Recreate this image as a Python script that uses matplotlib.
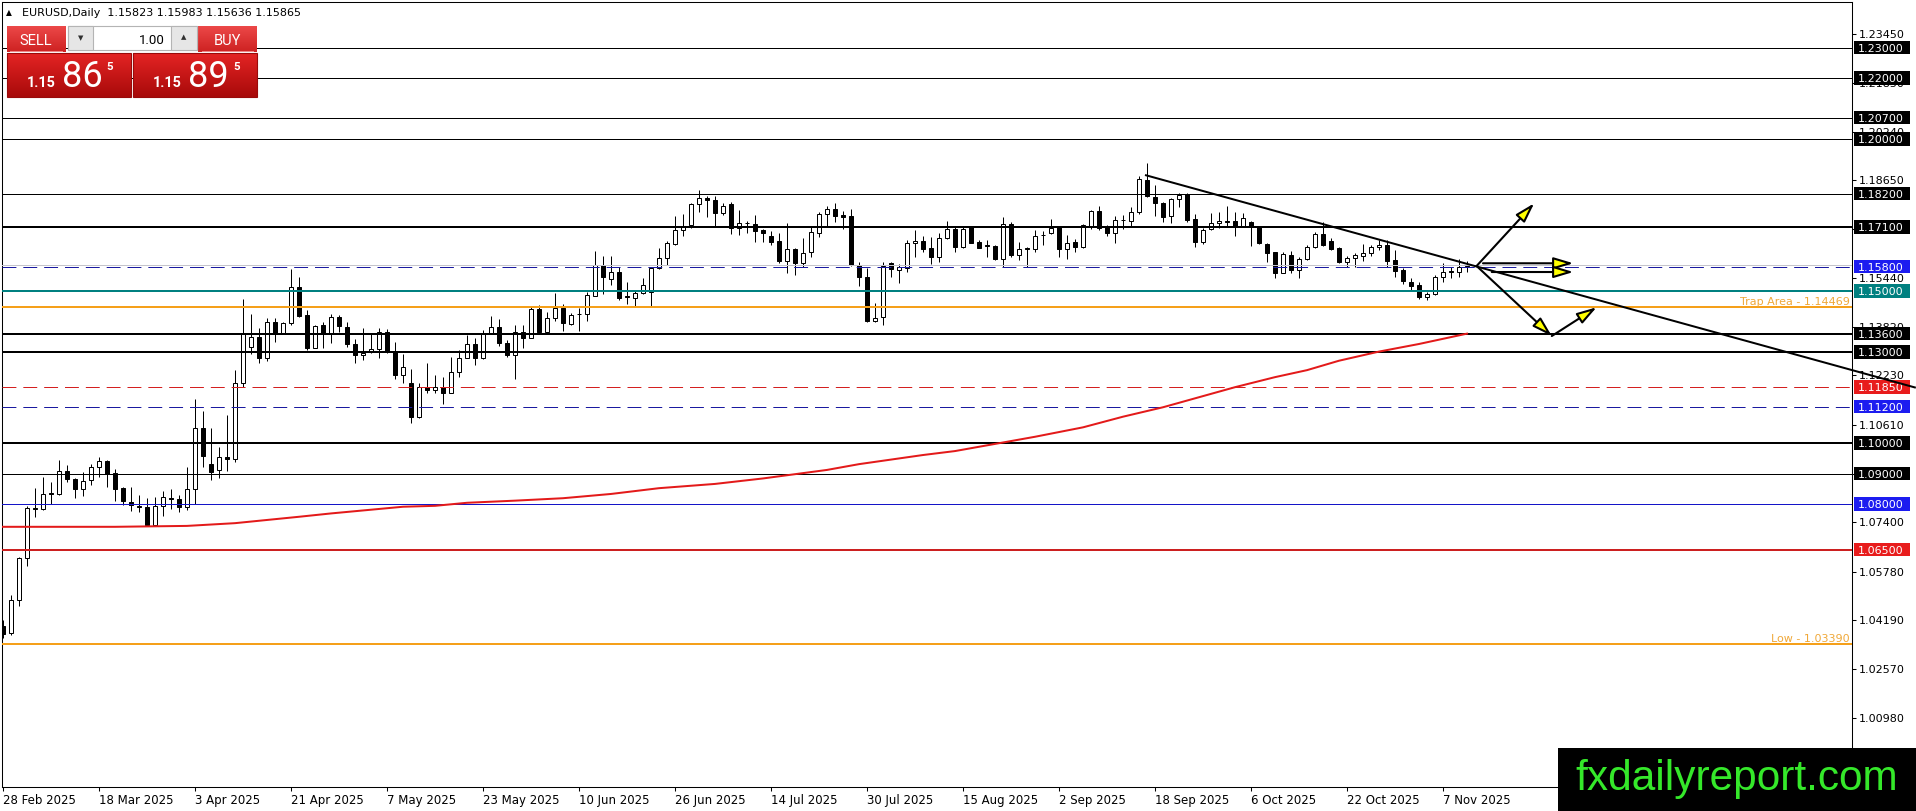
import numpy as np
import pandas as pd
import matplotlib
matplotlib.use("Agg")
import matplotlib.pyplot as plt
import matplotlib.transforms as mtransforms
from matplotlib.patches import Rectangle, FancyArrowPatch

plt.rcParams["font.family"] = ["DejaVu Sans"]
plt.rcParams["lines.scale_dashes"] = False


# Data (EURUSD daily, one row per 12 bars)

header = "EURUSD,Daily  1.15823 1.15983 1.15636 1.15865"
first_day = "2025-02-28"

opens = [
    1.0398, 1.0375, 1.0484, 1.0621, 1.0786, 1.0782, 1.0837, 1.0832, 1.0908, 1.0883, 1.0848, 1.0879,
    1.0921, 1.0940, 1.0901, 1.0852, 1.0808, 1.0795, 1.0789, 1.0731, 1.0793, 1.0819, 1.0815, 1.0789,
    1.0848, 1.1049, 1.0932, 1.0912, 1.0956, 1.0947, 1.1199, 1.1317, 1.1348, 1.1279, 1.1398, 1.1363,
    1.1394, 1.1512, 1.1420, 1.1314, 1.1387, 1.1363, 1.1416, 1.1383, 1.1325, 1.1290, 1.1301, 1.1311,
    1.1367, 1.1301, 1.1224, 1.1197, 1.1085, 1.1184, 1.1175, 1.1186, 1.1166, 1.1235, 1.1281, 1.1326,
    1.1279, 1.1361, 1.1383, 1.1328, 1.1290, 1.1367, 1.1345, 1.1440, 1.1367, 1.1413, 1.1443, 1.1391,
    1.1425, 1.1424, 1.1484, 1.1585, 1.1539, 1.1562, 1.1483, 1.1478, 1.1493, 1.1496, 1.1575, 1.1608,
    1.1655, 1.1701, 1.1717, 1.1786, 1.1805, 1.1799, 1.1755, 1.1786, 1.1708, 1.1725, 1.1721, 1.1701,
    1.1681, 1.1666, 1.1600, 1.1638, 1.1593, 1.1630, 1.1692, 1.1753, 1.1769, 1.1749, 1.1747, 1.1586,
    1.1545, 1.1403, 1.1414, 1.1591, 1.1569, 1.1575, 1.1657, 1.1665, 1.1640, 1.1613, 1.1673, 1.1703,
    1.1646, 1.1712, 1.1661, 1.1650, 1.1649, 1.1604, 1.1720, 1.1618, 1.1642, 1.1638, 1.1684, 1.1692,
    1.1709, 1.1637, 1.1660, 1.1646, 1.1714, 1.1764, 1.1709, 1.1692, 1.1735, 1.1730, 1.1761, 1.1865,
    1.1810, 1.1791, 1.1747, 1.1802, 1.1818, 1.1736, 1.1662, 1.1703, 1.1725, 1.1731, 1.1730, 1.1714,
    1.1728, 1.1712, 1.1654, 1.1629, 1.1560, 1.1619, 1.1569, 1.1604, 1.1646, 1.1688, 1.1665, 1.1643,
    1.1597, 1.1608, 1.1615, 1.1626, 1.1644, 1.1651, 1.1602, 1.1569, 1.1531, 1.1520, 1.1479, 1.1490,
    1.1547, 1.1565, 1.1561, 1.15823,
]
highs = [
    1.0419, 1.0501, 1.0627, 1.0793, 1.0852, 1.0888, 1.0871, 1.0945, 1.0928, 1.0885, 1.0906, 1.0931,
    1.0953, 1.0945, 1.0915, 1.0857, 1.0855, 1.0830, 1.0819, 1.0822, 1.0844, 1.0848, 1.0830, 1.0921,
    1.1145, 1.1105, 1.1049, 1.0988, 1.1093, 1.1241, 1.1473, 1.1425, 1.1377, 1.1410, 1.1410, 1.1398,
    1.1571, 1.1545, 1.1438, 1.1388, 1.1399, 1.1425, 1.1421, 1.1399, 1.1341, 1.1377, 1.1363, 1.1377,
    1.1374, 1.1334, 1.1293, 1.1243, 1.1197, 1.1265, 1.1224, 1.1216, 1.1284, 1.1306, 1.1356, 1.1345,
    1.1372, 1.1418, 1.1407, 1.1339, 1.1389, 1.1389, 1.1449, 1.1454, 1.1432, 1.1493, 1.1457, 1.1427,
    1.1443, 1.1498, 1.1633, 1.1615, 1.1615, 1.1580, 1.1530, 1.1504, 1.1544, 1.1580, 1.1640, 1.1665,
    1.1747, 1.1752, 1.1791, 1.1832, 1.1813, 1.1813, 1.1791, 1.1794, 1.1767, 1.1731, 1.1750, 1.1703,
    1.1697, 1.1692, 1.1723, 1.1640, 1.1673, 1.1714, 1.1761, 1.1780, 1.1791, 1.1764, 1.1769, 1.1596,
    1.1575, 1.1460, 1.1597, 1.1597, 1.1589, 1.1668, 1.1701, 1.1681, 1.1677, 1.1690, 1.1731, 1.1714,
    1.1714, 1.1714, 1.1668, 1.1668, 1.1651, 1.1745, 1.1728, 1.1662, 1.1646, 1.1701, 1.1699, 1.1736,
    1.1714, 1.1684, 1.1670, 1.1721, 1.1767, 1.1780, 1.1717, 1.1747, 1.1750, 1.1777, 1.1878, 1.1922,
    1.1849, 1.1794, 1.1805, 1.1821, 1.1821, 1.1752, 1.1706, 1.1758, 1.1761, 1.1780, 1.1761, 1.1758,
    1.1731, 1.1714, 1.1657, 1.1629, 1.1629, 1.1632, 1.1611, 1.1651, 1.1695, 1.1728, 1.1673, 1.1646,
    1.1615, 1.1624, 1.1655, 1.1651, 1.1668, 1.1668, 1.1635, 1.1575, 1.1542, 1.1531, 1.1498, 1.1553,
    1.1591, 1.1580, 1.1604, 1.15983,
]
lows = [
    1.0358, 1.0370, 1.0465, 1.0596, 1.0758, 1.0780, 1.0800, 1.0830, 1.0873, 1.0819, 1.0826, 1.0863,
    1.0890, 1.0857, 1.0811, 1.0797, 1.0778, 1.0773, 1.0728, 1.0728, 1.0762, 1.0783, 1.0775, 1.0780,
    1.0800, 1.0923, 1.0879, 1.0887, 1.0910, 1.0939, 1.1184, 1.1293, 1.1262, 1.1270, 1.1334, 1.1361,
    1.1390, 1.1416, 1.1306, 1.1312, 1.1312, 1.1328, 1.1367, 1.1317, 1.1265, 1.1273, 1.1295, 1.1279,
    1.1295, 1.1210, 1.1199, 1.1065, 1.1082, 1.1164, 1.1166, 1.1129, 1.1166, 1.1216, 1.1279, 1.1257,
    1.1276, 1.1361, 1.1319, 1.1282, 1.1210, 1.1312, 1.1345, 1.1363, 1.1363, 1.1403, 1.1369, 1.1389,
    1.1369, 1.1402, 1.1484, 1.1490, 1.1520, 1.1471, 1.1457, 1.1452, 1.1489, 1.1451, 1.1573, 1.1585,
    1.1653, 1.1681, 1.1706, 1.1761, 1.1745, 1.1714, 1.1750, 1.1688, 1.1684, 1.1690, 1.1662, 1.1662,
    1.1651, 1.1591, 1.1560, 1.1553, 1.1580, 1.1613, 1.1677, 1.1714, 1.1728, 1.1703, 1.1582, 1.1517,
    1.1399, 1.1399, 1.1388, 1.1547, 1.1528, 1.1564, 1.1611, 1.1630, 1.1589, 1.1597, 1.1670, 1.1629,
    1.1641, 1.1657, 1.1641, 1.1613, 1.1602, 1.1580, 1.1613, 1.1602, 1.1578, 1.1630, 1.1651, 1.1688,
    1.1613, 1.1607, 1.1629, 1.1643, 1.1703, 1.1701, 1.1681, 1.1657, 1.1703, 1.1712, 1.1753, 1.1808,
    1.1747, 1.1728, 1.1725, 1.1777, 1.1728, 1.1646, 1.1655, 1.1701, 1.1706, 1.1712, 1.1681, 1.1712,
    1.1648, 1.1655, 1.1597, 1.1542, 1.1558, 1.1558, 1.1542, 1.1602, 1.1641, 1.1648, 1.1635, 1.1593,
    1.1578, 1.1580, 1.1600, 1.1615, 1.1635, 1.1578, 1.1545, 1.1523, 1.1503, 1.1473, 1.1471, 1.1487,
    1.1531, 1.1542, 1.1547, 1.15636,
]
closes = [
    1.0372, 1.0484, 1.0621, 1.0786, 1.0783, 1.0832, 1.0832, 1.0908, 1.0883, 1.0848, 1.0876, 1.0921,
    1.0940, 1.0899, 1.0850, 1.0811, 1.0797, 1.0789, 1.0731, 1.0793, 1.0824, 1.0815, 1.0789, 1.0848,
    1.1049, 1.0959, 1.0906, 1.0956, 1.0947, 1.1197, 1.1359, 1.1348, 1.1279, 1.1398, 1.1361, 1.1394,
    1.1512, 1.1418, 1.1312, 1.1385, 1.1361, 1.1416, 1.1385, 1.1325, 1.1290, 1.1298, 1.1311, 1.1367,
    1.1301, 1.1224, 1.1249, 1.1085, 1.1184, 1.1175, 1.1186, 1.1164, 1.1235, 1.1281, 1.1326, 1.1279,
    1.1361, 1.1383, 1.1328, 1.1290, 1.1367, 1.1345, 1.1440, 1.1367, 1.1413, 1.1443, 1.1394, 1.1421,
    1.1423, 1.1486, 1.1585, 1.1547, 1.1562, 1.1478, 1.1481, 1.1493, 1.1519, 1.1575, 1.1608, 1.1657,
    1.1701, 1.1714, 1.1786, 1.1805, 1.1799, 1.1755, 1.1780, 1.1706, 1.1723, 1.1723, 1.1699, 1.1690,
    1.1662, 1.1600, 1.1638, 1.1593, 1.1624, 1.1695, 1.1753, 1.1769, 1.1747, 1.1742, 1.1586, 1.1545,
    1.1403, 1.1413, 1.1582, 1.1571, 1.1578, 1.1657, 1.1665, 1.1638, 1.1613, 1.1673, 1.1703, 1.1646,
    1.1703, 1.1659, 1.1643, 1.1649, 1.1604, 1.1719, 1.1618, 1.1639, 1.1639, 1.1681, 1.1685, 1.1708,
    1.1637, 1.1659, 1.1646, 1.1717, 1.1764, 1.1706, 1.1692, 1.1734, 1.1733, 1.1761, 1.1867, 1.1812,
    1.1788, 1.1745, 1.1802, 1.1816, 1.1734, 1.1662, 1.1701, 1.1725, 1.1731, 1.1728, 1.1714, 1.1739,
    1.1714, 1.1657, 1.1626, 1.1560, 1.1621, 1.1569, 1.1604, 1.1646, 1.1688, 1.1651, 1.1638, 1.1597,
    1.1608, 1.1619, 1.1624, 1.1644, 1.1651, 1.1600, 1.1567, 1.1534, 1.1517, 1.1479, 1.1490, 1.1547,
    1.1562, 1.1563, 1.1580, 1.15865,
]

# moving average (red curve), sampled along the chart
ma_bars = [0, 14, 23, 29, 37, 41, 50, 54, 58, 64, 70, 76, 82, 89, 95, 103, 107, 115, 119,
           129, 135, 140, 145, 154, 159, 163, 167, 172, 177, 183]
ma_vals = [1.0725, 1.0725, 1.0728, 1.0737, 1.0758, 1.0769, 1.0791, 1.0794, 1.0804, 1.0811,
           1.0819, 1.0833, 1.0852, 1.0866, 1.0884, 1.0912, 1.0931, 1.0961, 1.0974,
           1.1021, 1.1052, 1.1087, 1.1118, 1.1184, 1.1217, 1.1240, 1.1271, 1.1301, 1.1326, 1.1360]

# horizontal levels
level_prices = [1.23, 1.22, 1.207, 1.20, 1.182, 1.171, 1.158, 1.15, 1.14469,
                1.136, 1.13, 1.1185, 1.112, 1.10, 1.09, 1.08, 1.065, 1.0339]
level_colors = ["black", "black", "black", "black", "black", "black", "#1a1aa0", "#008080", "#f5a01a",
                "black", "black", "#d42020", "#1a1aa0", "black", "black", "#1414c8", "#cc2020", "#f5a01a"]
level_px = [1, 1, 1, 1, 1, 2, 1, 2, 2, 2, 2, 1, 1, 2, 1, 1, 2, 2]
level_dashed = [False, False, False, False, False, False, True, False, False,
                False, False, True, True, False, False, False, False, False]

# coloured price tags on the right scale
tag_prices = [1.23, 1.22, 1.207, 1.20, 1.182, 1.171, 1.158, 1.15,
              1.136, 1.13, 1.1185, 1.112, 1.10, 1.09, 1.08, 1.065]
tag_colors = ["black", "black", "black", "black", "black", "black", "#1c1cf0", "#008080",
              "black", "black", "#e81c1c", "#1c1cf0", "black", "black", "#1c1cf0", "#e81c1c"]

scale_ticks = [1.23450, 1.21850, 1.20240, 1.18650, 1.17030, 1.15440, 1.13820, 1.12230,
               1.10610, 1.09000, 1.07400, 1.05780, 1.04190, 1.02570, 1.00980]

bid_price = 1.15865
trap_price = 1.14469
low_price = 1.03390

# trend line (bar, price) and the scenario arrows
trend_line = [(142.75, 1.18815), (239.1, 1.11823)]
arrow_segments = [
    ((184.2, 1.15824), (191.4, 1.17885)),
    ((185.0, 1.15913), (196.3, 1.15913)),
    ((186.1, 1.15626), (196.3, 1.15626)),
    ((184.2, 1.15824), (193.6, 1.13522)),
    ((193.6, 1.13522), (199.2, 1.14466)),
]

sell_quote = ("1.15", "86", "5")
buy_quote = ("1.15", "89", "5")
lot_size = "1.00"
watermark = "fxdailyreport.com"


# Layout (pixels)

W, H = 1916, 811
PLOT_L, PLOT_R, PLOT_T, PLOT_B = 2, 1852, 2, 787
BAR_PX = 8
PT = 0.72  # points per pixel at 100 dpi


def fx(px):
    """pixel x -> axes fraction of the main chart"""
    return (px - PLOT_L) / (PLOT_R - PLOT_L)


fig = plt.figure(figsize=(W / 100, H / 100), dpi=100, facecolor="white")
ax = fig.add_axes([PLOT_L / W, (H - PLOT_B) / H, (PLOT_R - PLOT_L) / W, (PLOT_B - PLOT_T) / H])
ax.set_xlim(-1 / BAR_PX, (PLOT_R - PLOT_L - 1) / BAR_PX)
ax.set_ylim(0.98697, 1.24502)

o, h, l, c = (np.array(v) for v in (opens, highs, lows, closes))
x = np.arange(len(o))
up = c >= o
body_lo = np.minimum(o, c)
body_h = np.maximum(np.abs(c - o), 0.00015)

# candles
ax.vlines(x, l, h, color="black", lw=1 * PT, zorder=2)
ax.bar(x[up], body_h[up], width=0.55, bottom=body_lo[up], color="white",
       edgecolor="black", lw=1 * PT, zorder=2.2)
ax.bar(x[~up], body_h[~up], width=0.55, bottom=body_lo[~up], color="black",
       edgecolor="black", lw=1 * PT, zorder=2.2)

# levels
ax.axhline(bid_price, color="#c4c4cc", lw=1 * PT, zorder=2.8)
for p, col, wpx, dashed in zip(level_prices, level_colors, level_px, level_dashed):
    line = ax.axhline(p, color=col, lw=wpx * PT, zorder=3)
    if dashed:
        line.set_dashes((10, 5))

# moving average
ax.plot(ma_bars, ma_vals, color="#e31a1a", lw=2 * PT, zorder=3.5)

# trend line, runs off across the price scale
(tx0, ty0), (tx1, ty1) = trend_line
ax.plot([tx0, tx1], [ty0, ty1], color="black", lw=2 * PT, zorder=8, clip_on=False,
        solid_capstyle="butt")

for (x0, y0), (x1, y1) in arrow_segments:
    ax.add_patch(FancyArrowPatch((x0, y0), (x1, y1),
                                 arrowstyle="-|>,head_length=12,head_width=3.6",
                                 mutation_scale=1, lw=1.5, fc="#ffff00", ec="black",
                                 shrinkA=0, shrinkB=0, zorder=5))

trans = mtransforms.blended_transform_factory(ax.transAxes, ax.transData)
ax.text(fx(1850), trap_price, f"Trap Area - {trap_price:.5f}", transform=trans,
        ha="right", va="bottom", fontsize=8, color="#f0a838", zorder=4)
ax.text(fx(1850), low_price, f"Low - {low_price:.5f}", transform=trans,
        ha="right", va="bottom", fontsize=8, color="#f0a838", zorder=4)

# price scale
ax.yaxis.tick_right()
ax.set_yticks(scale_ticks)
ax.set_yticklabels([f"{v:.5f}" for v in scale_ticks])
ax.tick_params(axis="y", length=3, width=0.75, pad=2, labelsize=8, direction="out")

tag_h = 13.5 / 3042
for p, col in zip(tag_prices, tag_colors):
    ax.add_patch(Rectangle((fx(1854), p - tag_h / 2), fx(1910) - fx(1854), tag_h,
                           transform=trans, facecolor=col, edgecolor="none",
                           clip_on=False, zorder=6))
    ax.text(fx(1858), p, f"{p:.5f}", transform=trans, color="white", fontsize=8,
            ha="left", va="center_baseline", clip_on=False, zorder=7)

# date scale
dates = pd.bdate_range(first_day, periods=len(o))
tick_idx = np.arange(0, len(dates), 12)
ax.set_xticks(tick_idx)
ax.set_xticklabels([f"{d.day} {d:%b %Y}" for d in dates[tick_idx]])
for lbl in ax.get_xticklabels():
    lbl.set_ha("left")
ax.tick_params(axis="x", length=3, width=0.75, pad=2, labelsize=8.5, direction="out")

for sp in ax.spines.values():
    sp.set_linewidth(0.75)


# Overlay: header, trade panel, watermark (pixel coordinates)

ov = fig.add_axes([0, 0, 1, 1], zorder=10)
ov.patch.set_alpha(0)
ov.axis("off")


def gradient(x0, y0, x1, y1, top, bottom, edge=None):
    g = np.linspace(np.array(top) / 255, np.array(bottom) / 255, 40)[:, None, :]
    ov.imshow(g, extent=(x0, x1, y1, y0), aspect="auto", interpolation="bilinear", zorder=1)
    if edge:
        ov.add_patch(Rectangle((x0, y0), x1 - x0, y1 - y0, fill=False, ec=edge, lw=0.8, zorder=2))


ov.text(6, 13, "\u25b2", fontsize=5.5, va="center", ha="left")
ov.text(22, 13, header, fontsize=8, va="center", ha="left")

# SELL / BUY buttons
gradient(6.7, 26, 65, 52, (236, 72, 72), (206, 34, 34))
gradient(198.3, 26, 256.7, 52, (236, 72, 72), (206, 34, 34))
ov.plot([10, 62], [50.5, 50.5], color="#f08a8a", lw=0.7, zorder=3)
ov.plot([202, 253], [50.5, 50.5], color="#f08a8a", lw=0.7, zorder=3)
ov.text(35.8, 45, "SELL", family="Roboto", fontsize=10.5, color="white", ha="center", va="baseline", zorder=4)
ov.text(227.5, 45, "BUY", family="Roboto", fontsize=10.5, color="white", ha="center", va="baseline", zorder=4)

# lot size spinner
ov.add_patch(Rectangle((68.3, 26), 128.4, 24, fc="white", ec="#b4b4b4", lw=0.8, zorder=2))
ov.add_patch(Rectangle((68.3, 26), 24.4, 24, fc="#e6e6e6", ec="#b4b4b4", lw=0.8, zorder=3))
ov.add_patch(Rectangle((170.7, 26), 26, 24, fc="#e6e6e6", ec="#b4b4b4", lw=0.8, zorder=3))
ov.text(80.5, 38.5, "\u25bc", fontsize=5, ha="center", va="center", color="#303030", zorder=4)
ov.text(183.7, 37.5, "\u25b2", fontsize=5, ha="center", va="center", color="#303030", zorder=4)
ov.text(165, 43.5, lot_size, family="Roboto", fontsize=9.5, ha="right", va="baseline", zorder=4)

# big quotes
for (bx0, bx1), (small, big, sup), (sx, gx, px) in zip(
        [(6.7, 130.7), (133.3, 256.7)], [sell_quote, buy_quote],
        [(26.7, 61.7, 106), (153.3, 188.3, 233.3)]):
    gradient(bx0, 52.7, bx1, 96.7, (228, 36, 36), (168, 10, 10), edge="#9a0a0a")
    ov.text(sx, 87.3, small, family="Roboto", fontsize=10.4, weight="bold", color="white",
            ha="left", va="baseline", zorder=4)
    ov.text(gx, 87.3, big, family="Roboto", fontsize=26, color="white",
            ha="left", va="baseline", zorder=4)
    ov.text(px, 70, sup, family="Roboto", fontsize=8.2, weight="bold", color="white",
            ha="left", va="baseline", zorder=4)

# watermark
ov.add_patch(Rectangle((1558.3, 747.7), W - 1558.3, H - 747.7, fc="black", ec="none", zorder=2))
ov.text(1736.5, 790, watermark, family="Liberation Sans", fontsize=30.5, color="#35e82a",
        ha="center", va="baseline", zorder=3)

ov.set_xlim(0, W)
ov.set_ylim(H, 0)

fig.savefig("out.png", dpi=100, facecolor="white")
